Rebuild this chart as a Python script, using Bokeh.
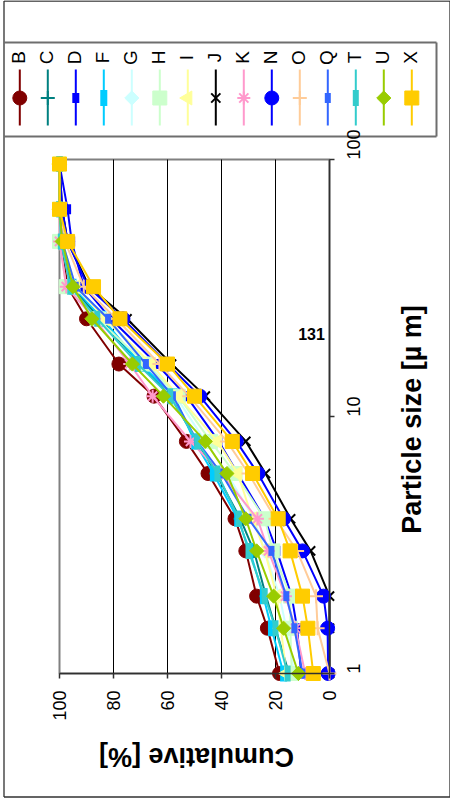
import math
from bokeh.plotting import figure
from bokeh.models import Range1d, FixedTicker, Label, ColumnDataSource
from bokeh.embed import file_html
from bokeh.resources import INLINE

# ---------------- data ----------------
sizes = [1, 1.5, 2, 3, 4, 6, 8, 12, 16, 24, 32, 48, 64, 96]

series_names = ["B", "C", "D", "F", "G", "H", "I", "J", "K", "N", "O", "Q", "T", "U", "X"]

B = [18.5, 23, 27, 31, 35, 45, 53, 65, 78, 90, 97, 99.5, 100, 100]
C = [15, 20, 23.5, 28, 33, 42, 49, 59, 70, 85, 95.5, 99.5, 100, 100]
D = [10.5, 12, 14, 19.5, 24, 34, 41, 53, 64, 81, 91, 95.5, 97, 100]
F = [17, 21.5, 24.5, 29.5, 34, 43, 50, 57.5, 70, 84, 95, 99, 100, 100]
G = [13, 16, 18.5, 24, 28, 38, 46, 57, 67, 83, 94.5, 99, 100, 100]
H = [14, 14.5, 14.5, 21, 24, 35, 44, 56, 68, 86, 97.5, 100, 100, 100]
I = [16, 18, 19.5, 24, 28.5, 34, 41.5, 56, 66, 83, 94, 99, 100, 100]
J = [0, 0, 0, 7, 14.4, 23.7, 31, 46, 58.5, 75, 89, 97, 99, 100]
K = [9, 12.6, 16.3, 22.6, 26.7, 40, 51.5, 65.5, 74, 87, 97.5, 100, 100, 100]
N = [0.5, 0.7, 2.2, 10, 17, 26.5, 34.5, 48, 60, 76.5, 89.5, 97, 99, 100]
O = [0, 4.4, 5, 12, 20, 30, 38, 52, 63, 79, 91, 98, 100, 100]
Q = [10, 13, 16, 21.5, 30, 40, 49, 58, 68, 82, 94, 99, 100, 100]
T = [15.5, 20, 24, 30, 33.6, 41.5, 49, 59, 71, 86, 96, 99.5, 100, 100]
U = [11.5, 17, 20.7, 27, 31, 38, 46, 61.5, 73, 88, 95, 99, 100, 100]
X = [6, 8, 10, 14.6, 19, 28.5, 36, 50, 60, 77.6, 87.4, 97, 100, 100]

series_values = [B, C, D, F, G, H, I, J, K, N, O, Q, T, U, X]

cum_ticks = [0, 20, 40, 60, 80, 100]
cum_tick_labels = ["0", "20", "40", "60", "80", "100"]
size_ticks = [1, 10, 100]
size_tick_labels = ["1", "10", "100"]

chart_title = "131"
x_title = "Particle size [µ m]"
y_title = "Cumulative [%]"

# ---------------- styles ----------------
HP = math.pi / 2
styles = {
    "B": dict(color="#800000", marker="circle", size=14, angle=0, lw=1),
    "C": dict(color="#008080", marker="cross", size=14, angle=0, lw=2),
    "D": dict(color="#0000FF", marker="dash", size=10, angle=HP, lw=7),
    "F": dict(color="#00CCFF", marker="dash", size=16, angle=HP, lw=7),
    "G": dict(color="#CCFFFF", marker="square", size=10, angle=math.pi / 4, lw=1),
    "H": dict(color="#CCFFCC", marker="square", size=14, angle=0, lw=1),
    "I": dict(color="#FFFF99", marker="triangle", size=14, angle=HP, lw=1),
    "J": dict(color="#000000", marker="x", size=13, angle=0, lw=2),
    "K": dict(color="#FF99CC", marker="asterisk", size=13, angle=0, lw=2),
    "N": dict(color="#0000FF", marker="circle", size=14, angle=0, lw=1),
    "O": dict(color="#FFCC99", marker="cross", size=14, angle=0, lw=2),
    "Q": dict(color="#3366FF", marker="dash", size=10, angle=HP, lw=6),
    "T": dict(color="#33CCCC", marker="dash", size=16, angle=HP, lw=6),
    "U": dict(color="#99CC00", marker="square", size=10, angle=math.pi / 4, lw=1),
    "X": dict(color="#FFCC00", marker="square", size=14, angle=0, lw=1),
}

FONT = "Liberation Sans"

# ---------------- geometry (pixel layout of the page) ----------------
W, H = 450, 803
PL, PR, PT, PB = 59, 329, 159, 673   # plot area edges in pixels


def dx(px):
    """pixel column -> cumulative value (axis runs 100 at left to 0 at right)"""
    return cum_ticks[-1] - (px - PL) * (cum_ticks[-1] - cum_ticks[0]) / (PR - PL)


def dy(py):
    """pixel row -> particle size on the log axis"""
    lo, hi = math.log10(size_ticks[0]), math.log10(size_ticks[-1])
    return 10 ** (lo + (hi - lo) * (PB - py) / (PB - PT))


p = figure(width=W, height=H, title=None,
           x_range=Range1d(dx(0), dx(W)), y_range=Range1d(dy(H), dy(0)),
           y_axis_type="log", x_axis_location="below", y_axis_location="right",
           output_backend="svg", toolbar_location=None,
           min_border_left=0, min_border_right=0, min_border_top=0, min_border_bottom=0)

p.background_fill_color = "white"
p.border_fill_color = "white"
p.outline_line_color = None
p.xgrid.visible = False
p.ygrid.visible = False

# axes placed at the plot-area edges
xa = p.xaxis[0]
xa.fixed_location = size_ticks[0]
xa.bounds = (cum_ticks[0], cum_ticks[-1])
xa.ticker = FixedTicker(ticks=cum_ticks, minor_ticks=[])
xa.major_label_overrides = {t: l for t, l in zip(cum_ticks, cum_tick_labels)}
xa.major_label_orientation = HP
xa.major_label_standoff = 12
ya = p.yaxis[0]
ya.fixed_location = cum_ticks[0]
ya.bounds = (size_ticks[0], size_ticks[-1])
ya.ticker = FixedTicker(ticks=size_ticks, minor_ticks=[])
ya.major_label_overrides = {t: l for t, l in zip(size_ticks, size_tick_labels)}
ya.major_label_orientation = HP
ya.major_label_standoff = 19
for ax in (xa, ya):
    ax.axis_line_color = "#303030"
    ax.axis_line_width = 1.5
    ax.major_tick_line_color = "#303030"
    ax.major_tick_line_width = 1.5
    ax.major_tick_out = 5
    ax.major_tick_in = 0
    ax.minor_tick_line_color = None
    ax.major_label_text_font = FONT
    ax.major_label_text_font_size = "18px"
    ax.major_label_text_color = "black"

# frame lines: outer border, legend box (pixel layout converted through the scales)
frame_segs = dict(x0=[], y0=[], x1=[], y1=[], c=[], w=[])


def seg(px0, py0, px1, py1, color, width):
    frame_segs["x0"].append(dx(px0))
    frame_segs["y0"].append(dy(py0))
    frame_segs["x1"].append(dx(px1))
    frame_segs["y1"].append(dy(py1))
    frame_segs["c"].append(color)
    frame_segs["w"].append(width)


# outer chart border
seg(3.5, 0.5, 449.5, 0.5, "#303030", 1.3)
seg(3.5, 796.5, 449.5, 796.5, "#303030", 1.3)
seg(3.5, 0.5, 3.5, 796.5, "#303030", 1.3)
seg(449.5, 0.5, 449.5, 796.5, "#303030", 1.3)
# legend box
seg(3.5, 42, 436, 42, "#6e6e6e", 2)
seg(3.5, 136, 436, 136, "#6e6e6e", 2)
seg(436, 42, 436, 136, "#6e6e6e", 2)
p.segment("x0", "y0", "x1", "y1", source=ColumnDataSource(frame_segs),
          line_color="c", line_width="w")

# plot area border (grey) and gridlines (black)
p.quad(left=[cum_ticks[-1]], right=[cum_ticks[0]], bottom=[size_ticks[0]], top=[size_ticks[-1]],
       fill_color=None, line_color="#808080", line_width=2)
grid_x = cum_ticks[1:-1]
p.segment(x0=grid_x, y0=[size_ticks[0]] * len(grid_x), x1=grid_x, y1=[size_ticks[-1]] * len(grid_x),
          line_color="black", line_width=1)

# series: line then markers, series by series
for name, vals in zip(series_names, series_values):
    st = styles[name]
    p.line(vals, sizes, line_color=st["color"], line_width=2)
    p.scatter(vals, sizes, marker=st["marker"], size=st["size"], angle=st["angle"],
              fill_color=st["color"], line_color=st["color"], line_width=st["lw"])

# legend (rotated, along the top)
LEG_X0, LEG_DX = 19.3, 28.0
LEG_LINE_TOP, LEG_LINE_BOT, LEG_MARK_Y, LEG_TEXT_Y = 69, 125, 97.5, 57
for i, name in enumerate(series_names):
    st = styles[name]
    cx = LEG_X0 + LEG_DX * i
    p.segment(x0=[dx(cx)], y0=[dy(LEG_LINE_TOP)], x1=[dx(cx)], y1=[dy(LEG_LINE_BOT)],
              line_color=st["color"], line_width=2)
    p.scatter([dx(cx)], [dy(LEG_MARK_Y)], marker=st["marker"], size=st["size"], angle=st["angle"],
              fill_color=st["color"], line_color=st["color"], line_width=st["lw"])
    p.add_layout(Label(x=dx(cx - 1.5), y=dy(LEG_TEXT_Y), text=name, angle=HP,
                       text_font=FONT, text_font_size="19px", text_color="black",
                       text_align="center", text_baseline="middle"))

# axis titles and chart title
p.add_layout(Label(x=dx(196), y=dy(756), text=y_title, angle=math.pi,
                   text_font=FONT, text_font_size="27px", text_font_style="bold",
                   text_color="black", text_align="center", text_baseline="middle"))
p.add_layout(Label(x=dx(411), y=dy(419), text=x_title, angle=HP,
                   text_font=FONT, text_font_size="27px", text_font_style="bold",
                   text_color="black", text_align="center", text_baseline="middle"))
p.add_layout(Label(x=dx(311), y=dy(333), text=chart_title, angle=0,
                   text_font=FONT, text_font_size="16px", text_font_style="bold",
                   text_color="black", text_align="center", text_baseline="middle"))

open("out.html", "w").write(file_html(p, INLINE))
